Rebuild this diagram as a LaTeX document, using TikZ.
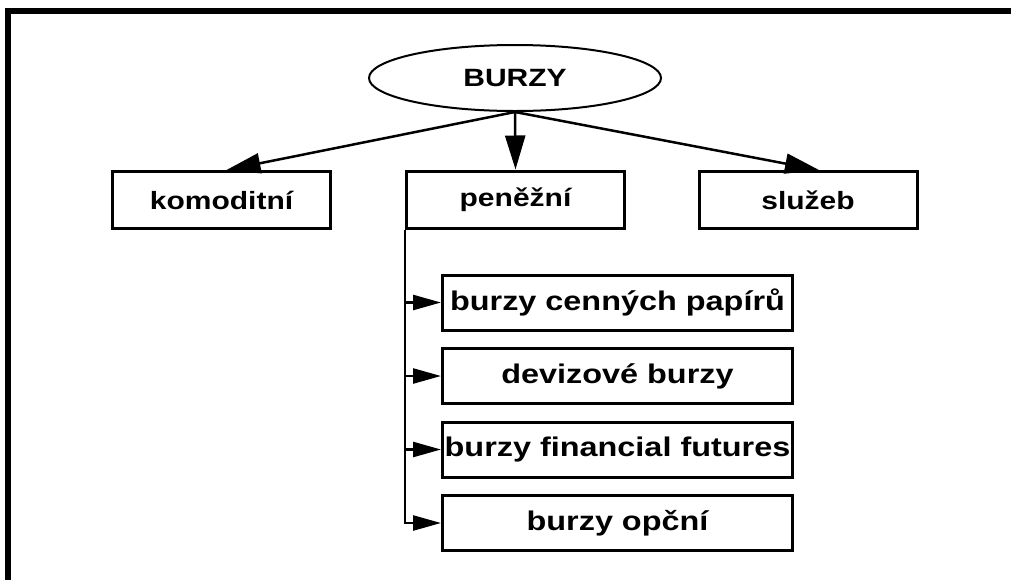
\documentclass[tikz,border=0pt]{standalone}
\usepackage{fontspec}
\setmainfont{Liberation Sans}[FakeStretch=1.2]
\usetikzlibrary{arrows.meta,shapes.geometric}
\begin{document}
\begin{tikzpicture}[x=1pt,y=-1pt,
  lbl/.style={font=\fontsize{25}{30}\selectfont\bfseries},
  sublbl/.style={font=\fontsize{27}{32}\selectfont\bfseries},
  topbox/.style={draw,line width=3pt,rectangle,minimum width=218pt,minimum height=57pt,inner sep=0pt,lbl},
  subbox/.style={draw,line width=3pt,rectangle,minimum width=350pt,minimum height=55pt,inner sep=0pt,sublbl},
  bigarrow/.style={line width=2.5pt,-{Triangle[length=34pt,width=20pt]}},
  smallarrow/.style={line width=2.5pt,-{Triangle[length=28pt,width=15pt]}}]
\useasboundingbox (0,0) rectangle (1011,579);
\draw[line width=6pt] (8,590) -- (8,11) -- (1020,11);
\node[draw,ellipse,line width=2pt,minimum width=292pt,minimum height=66pt,inner sep=0pt,lbl] (b) at (515,78) {BURZY};
\node[topbox] (kom) at (221.5,200) {komoditní};
\node[topbox] (pen) at (515.5,199.5) {peněžní};
\node[topbox] (slu) at (808,200) {služeb};
\node[subbox] (s1) at (617.5,302.5) {burzy cenných papírů};
\node[subbox] (s2) at (617.5,376) {devizové burzy};
\node[subbox] (s3) at (617.5,449.5) {burzy financial futures};
\node[subbox] (s4) at (617.5,523) {burzy opční};
\draw[bigarrow] (b.south) -- ([xshift=5pt]kom.north);
\draw[bigarrow] (b.south) -- (pen.north);
\draw[bigarrow] (b.south) -- ([xshift=11pt]slu.north);
\draw[line width=2.5pt] (pen.south west) -- (pen.south west |- s4.west);
\draw[smallarrow] (pen.south west |- s1.west) -- (s1.west);
\draw[smallarrow] (pen.south west |- s2.west) -- (s2.west);
\draw[smallarrow] (pen.south west |- s3.west) -- (s3.west);
\draw[smallarrow] ([xshift=-1.25pt]pen.south west |- s4.west) -- (s4.west);
\end{tikzpicture}
\end{document}
